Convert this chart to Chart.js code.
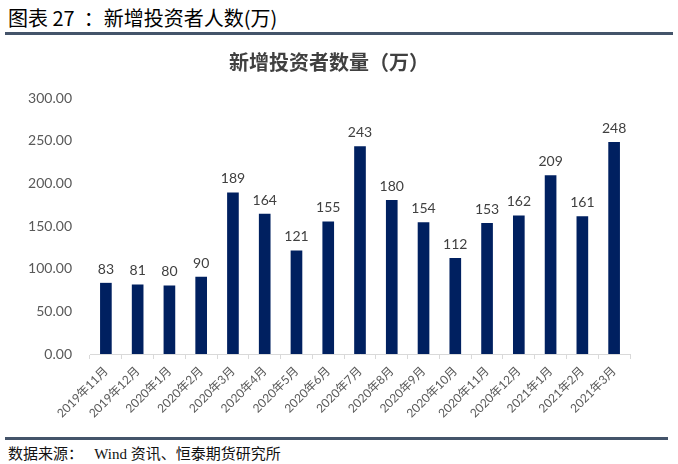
<!DOCTYPE html>
<html>
<head>
<meta charset="utf-8">
<script src="https://cdn.jsdelivr.net/npm/chart.js@4.4.1/dist/chart.umd.min.js"></script>
<style>
  html, body { margin: 0; padding: 0; background: #fff; }
  body { width: 678px; height: 464px; position: relative; overflow: hidden; }
  #head {
    position: absolute; left: 8px; top: 3px;
    font-family: "Noto Sans CJK SC", sans-serif; font-size: 20px; font-weight: 400;
    color: #000; white-space: pre;
  }
  #headLine { position: absolute; left: 5px; top: 32px; width: 668px; height: 3px; background: #44546a; }
  #wrap { position: absolute; left: 0; top: 40px; width: 678px; height: 390px; }
  #footLine { position: absolute; left: 5px; top: 437px; width: 663px; height: 3px; background: #44546a; }
  #foot {
    position: absolute; left: 8px; top: 442px;
    font-family: "Liberation Serif", "Noto Sans CJK SC", serif; font-size: 15px; color: #111;
    white-space: pre;
  }
</style>
</head>
<body>
<div id="head">图表 27  ：新增投资者人数(万)</div>
<div id="headLine"></div>
<div id="wrap"><canvas id="chart"></canvas></div>
<div id="footLine"></div>
<div id="foot">数据来源：   Wind 资讯、恒泰期货研究所</div>
<script>
// ------------------------------
// DATA
// ------------------------------
const months = [
  "2019年11月", "2019年12月", "2020年1月", "2020年2月", "2020年3月", "2020年4月",
  "2020年5月", "2020年6月", "2020年7月", "2020年8月", "2020年9月", "2020年10月",
  "2020年11月", "2020年12月", "2021年1月", "2021年2月", "2021年3月"
];
const newInvestors = [83, 81, 80, 90, 189, 164, 121, 155, 243, 180, 154, 112, 153, 162, 209, 161, 248];
const yTicks = [0, 50, 100, 150, 200, 250, 300];

// ------------------------------
// VALUE LABELS ABOVE BARS
// ------------------------------
const valueLabels = {
  id: "valueLabels",
  afterDatasetsDraw(chart) {
    const ctx = chart.ctx;
    const meta = chart.getDatasetMeta(0);
    ctx.save();
    ctx.font = "14px Lato, 'Open Sans', sans-serif";
    ctx.fillStyle = "#404040";
    ctx.textAlign = "center";
    ctx.textBaseline = "bottom";
    meta.data.forEach((bar, i) => {
      ctx.fillText(String(newInvestors[i]), bar.x, bar.y - 7);
    });
    ctx.restore();
  }
};

new Chart(document.getElementById("chart"), {
  type: "bar",
  data: {
    labels: months,
    datasets: [{
      data: newInvestors,
      backgroundColor: "#002060",
      barThickness: 11
    }]
  },
  options: {
    responsive: true,
    maintainAspectRatio: false,
    animation: false,
    // left padding shifts the title centre; y axis width keeps plot left at 90px
    layout: { padding: { top: 0, right: 48, bottom: 0, left: 28 } },
    plugins: {
      legend: { display: false },
      tooltip: { enabled: false },
      title: {
        display: true,
        text: "新增投资者数量（万）",
        color: "#404040",
        font: { family: "'Noto Sans CJK SC', sans-serif", size: 20, weight: "bold" },
        padding: { top: 10, bottom: 24 }
      }
    },
    scales: {
      x: {
        grid: { display: true, drawOnChartArea: false, color: "#d9d9d9", tickLength: 5 },
        border: { color: "#d9d9d9" },
        ticks: {
          color: "#595959",
          font: { family: "Lato, 'Noto Sans CJK SC', sans-serif", size: 12 },
          minRotation: 45, maxRotation: 45, padding: 5
        },
        afterFit(scale) { scale.height = 76; }
      },
      y: {
        min: 0, max: 300,
        afterBuildTicks(scale) { scale.ticks = yTicks.map(v => ({ value: v })); },
        grid: { display: false },
        border: { display: false },
        ticks: {
          color: "#595959",
          font: { family: "Lato, 'Open Sans', sans-serif", size: 14 },
          padding: 10,
          callback: v => Number(v).toFixed(2)
        },
        afterFit(scale) { scale.width = 62; }
      }
    }
  },
  plugins: [valueLabels]
});
</script>
</body>
</html>
